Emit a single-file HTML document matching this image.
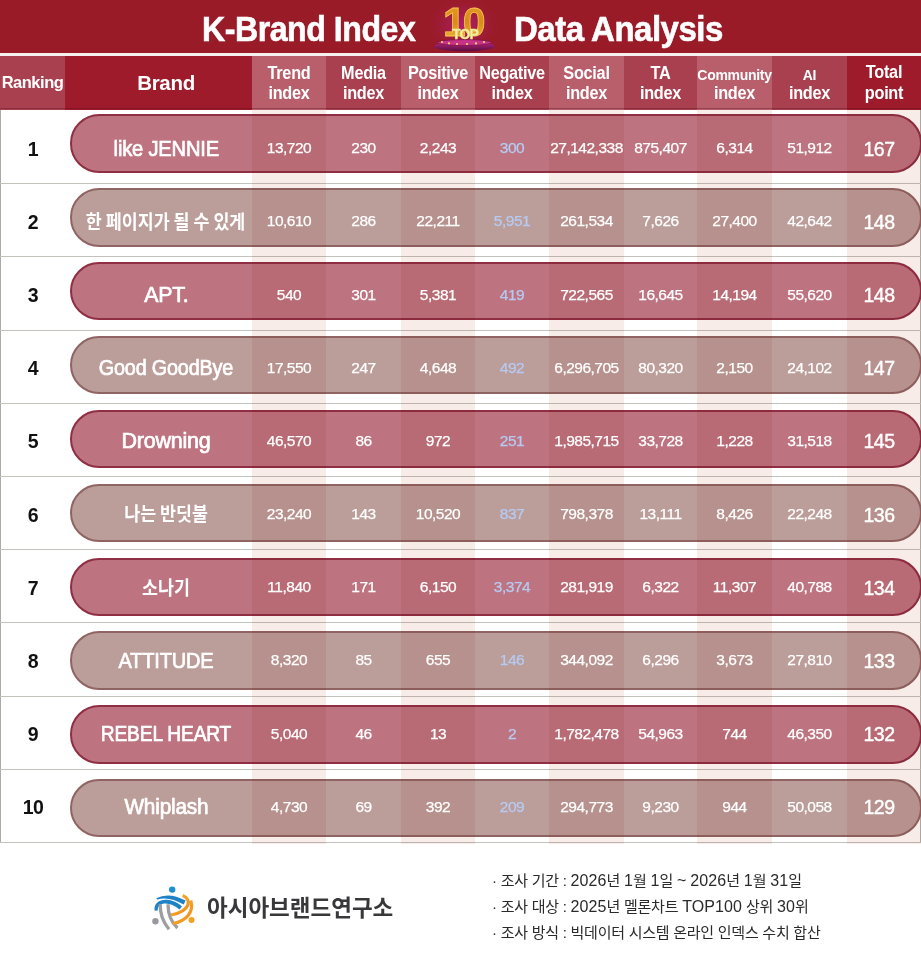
<!DOCTYPE html>
<html><head><meta charset="utf-8">
<style>
*{margin:0;padding:0;box-sizing:border-box}
html,body{width:921px;height:967px;overflow:hidden;background:#fff}
body{position:relative;font-family:"Liberation Sans","Noto Sans CJK KR",sans-serif}
div,svg{position:absolute}
#banner{left:0;top:0;width:921px;height:53px;background:#9a1b28}
#wline{left:0;top:53px;width:921px;height:3px;background:#f7eef0}
.title{top:9px;color:#fff;font-weight:bold;font-size:35px;line-height:40px;white-space:nowrap;-webkit-text-stroke:0.6px #fff}
.hc{top:56px;height:54px;color:#fff;font-weight:bold;text-align:center;white-space:nowrap}
.hc span{position:absolute;left:0;right:0;text-align:center;display:block}
.l1{top:6.6px;font-size:17.5px;line-height:20px;letter-spacing:-0.3px;transform:scaleX(0.93)}
.l2{top:27px;font-size:17.5px;line-height:20px;letter-spacing:-0.3px;transform:scaleX(0.93)}
.hA{background:#9e1b2c}
.hB{background:#a8404f}
.hC{background:#b95f6c}
.band{top:110px;height:734px;background:#f8ece9;mix-blend-mode:multiply}
.sep{left:0;width:921px;height:1px;background:#c2c3bd}
.pill{left:70px;width:852px;height:58.4px;border-radius:29.2px}
.p1{background:#bd7480;border:2.2px solid #902e44}
.p2{background:#bb9d9a;border:2.2px solid #916464}
.cell{height:30px;line-height:30px;text-align:center;color:#fff;font-size:15.5px;letter-spacing:-0.5px;white-space:nowrap;-webkit-text-stroke:0.25px currentColor}
.rank{color:#111;font-weight:bold;font-size:19.5px;-webkit-text-stroke:0}
.brand{font-size:21.5px;letter-spacing:-0.2px;-webkit-text-stroke:0.7px #fff}
.ko{font-family:"Noto Sans CJK KR",sans-serif;font-weight:bold;font-size:19.5px;letter-spacing:0;-webkit-text-stroke:0}
.ko span{display:inline-block;transform:scaleX(0.89)}
.neg{color:#b7cbf2}
.tot{font-size:19.5px;-webkit-text-stroke:0.4px #fff}
.foot{font-family:"Liberation Sans","Noto Sans CJK KR",sans-serif;font-size:15px;color:#2a2a2a;line-height:20px;letter-spacing:-0.25px;white-space:nowrap}
.foot span.d{font-size:16px;letter-spacing:0.1px}
</style></head><body>
<div id="banner"></div><div id="wline"></div>
<div class="title" style="left:202px;letter-spacing:-0.5px;transform:scaleX(0.917);transform-origin:0 0">K-Brand Index</div>
<div class="title" style="left:514px;letter-spacing:-0.5px;transform:scaleX(0.942);transform-origin:0 0">Data Analysis</div>
<svg style="left:425px;top:0" width="80" height="53" viewBox="0 0 80 53">
<defs>
<radialGradient id="glow" cx="0.5" cy="0.5" r="0.5"><stop offset="0" stop-color="#b8207a" stop-opacity="0.85"/><stop offset="0.6" stop-color="#a81e55" stop-opacity="0.4"/><stop offset="1" stop-color="#9b1b2b" stop-opacity="0"/></radialGradient>
<linearGradient id="gold" x1="0" y1="0" x2="0" y2="1"><stop offset="0" stop-color="#e8a028"/><stop offset="0.5" stop-color="#d88a1a"/><stop offset="1" stop-color="#f0c040"/></linearGradient>
<linearGradient id="ped" x1="0" y1="0" x2="0" y2="1"><stop offset="0" stop-color="#c02a80"/><stop offset="1" stop-color="#5a0c40"/></linearGradient>
</defs>
<ellipse cx="38.5" cy="25" rx="36" ry="28" fill="url(#glow)"/>
<ellipse cx="39.5" cy="46.3" rx="30.5" ry="5" fill="url(#ped)"/>
<ellipse cx="39.5" cy="42.6" rx="27" ry="3" fill="#c83288"/>
<ellipse cx="39.5" cy="42.6" rx="27" ry="3" fill="none" stroke="#7a1450" stroke-width="0.8"/>
<g fill="#ffd860"><circle cx="17" cy="42" r="1.1"/><circle cx="24" cy="43.3" r="1.1"/><circle cx="32" cy="44" r="1.1"/><circle cx="42" cy="44" r="1.1"/><circle cx="51" cy="43.4" r="1.1"/><circle cx="59" cy="42" r="1.1"/></g>
<text x="37.8" y="36" text-anchor="middle" font-family="Liberation Sans" font-weight="bold" font-size="41" fill="url(#gold)" letter-spacing="-3" stroke="#f8c850" stroke-width="0.8">10</text>
<text x="40" y="39" text-anchor="middle" font-family="Liberation Sans" font-weight="bold" font-size="14" letter-spacing="-0.9" fill="#f3f0a8" stroke="#e8e080" stroke-width="0.5">TOP</text>
</svg>
<div class="hc hB" style="left:0px;width:65px"><span style="top:16px;font-size:16.5px;line-height:20px;letter-spacing:-0.5px">Ranking</span></div>
<div class="hc hA" style="left:65px;width:187px"><span style="top:16px;left:15px;font-size:20.5px;line-height:22px;letter-spacing:-0.3px">Brand</span></div>
<div class="hc hC" style="left:252px;width:74px"><span class="l1">Trend</span><span class="l2">index</span></div>
<div class="hc hB" style="left:326px;width:75px"><span class="l1">Media</span><span class="l2">index</span></div>
<div class="hc hC" style="left:401px;width:74px"><span class="l1">Positive</span><span class="l2">index</span></div>
<div class="hc hB" style="left:475px;width:74px"><span class="l1">Negative</span><span class="l2">index</span></div>
<div class="hc hC" style="left:549px;width:75px"><span class="l1">Social</span><span class="l2">index</span></div>
<div class="hc hB" style="left:624px;width:73px"><span class="l1">TA</span><span class="l2">index</span></div>
<div class="hc hC" style="left:697px;width:75px"><span class="l1" style="font-size:14px;top:8.5px;letter-spacing:-0.3px;transform:none">Community</span><span class="l2">index</span></div>
<div class="hc hB" style="left:772px;width:75px"><span class="l1" style="font-size:14px;top:8.5px;letter-spacing:-0.3px;transform:none">AI</span><span class="l2">index</span></div>
<div class="hc hA" style="left:847px;width:74px"><span class="l1" style="font-size:17.5px;top:6.3px">Total</span><span class="l2" style="font-size:17.5px;top:26.5px">point</span></div>
<div style="left:0;top:108.3px;width:921px;height:1.2px;background:rgba(80,15,25,0.35)"></div>
<div style="left:0;top:110px;width:1px;height:733px;background:#aaaca6"></div>
<div style="left:920px;top:110px;width:1px;height:733px;background:#b5b3ae"></div>
<div class="sep" style="top:183px"></div>
<div class="pill p1" style="top:114.3px"></div>
<div class="sep" style="top:256px"></div>
<div class="pill p2" style="top:188.2px"></div>
<div class="sep" style="top:330px"></div>
<div class="pill p1" style="top:262.0px"></div>
<div class="sep" style="top:403px"></div>
<div class="pill p2" style="top:335.9px"></div>
<div class="sep" style="top:476px"></div>
<div class="pill p1" style="top:409.8px"></div>
<div class="sep" style="top:549px"></div>
<div class="pill p2" style="top:483.7px"></div>
<div class="sep" style="top:622px"></div>
<div class="pill p1" style="top:557.5px"></div>
<div class="sep" style="top:696px"></div>
<div class="pill p2" style="top:631.4px"></div>
<div class="sep" style="top:769px"></div>
<div class="pill p1" style="top:705.3px"></div>
<div class="sep" style="top:842px"></div>
<div class="pill p2" style="top:779.1px"></div>
<div class="band" style="left:252px;width:74px"></div>
<div class="band" style="left:401px;width:74px"></div>
<div class="band" style="left:549px;width:75px"></div>
<div class="band" style="left:697px;width:75px"></div>
<div class="band" style="left:847px;width:74px"></div>
<div class="cell rank" style="left:0;width:66px;top:133.6px">1</div>
<div class="cell brand" style="left:40px;width:252px;top:133.6px"><span style="display:inline-block;transform:scaleX(0.936)">like JENNIE</span></div>
<div class="cell" style="left:252px;width:74px;top:133.1px">13,720</div>
<div class="cell" style="left:326px;width:75px;top:133.1px">230</div>
<div class="cell" style="left:401px;width:74px;top:133.1px">2,243</div>
<div class="cell neg" style="left:475px;width:74px;top:133.1px">300</div>
<div class="cell" style="left:549px;width:75px;top:133.1px">27,142,338</div>
<div class="cell" style="left:624px;width:73px;top:133.1px">875,407</div>
<div class="cell" style="left:697px;width:75px;top:133.1px">6,314</div>
<div class="cell" style="left:772px;width:75px;top:133.1px">51,912</div>
<div class="cell tot" style="left:847px;width:64px;top:133.6px">167</div>
<div class="cell rank" style="left:0;width:66px;top:206.8px">2</div>
<div class="cell brand ko" style="left:40px;width:252px;top:205.6px"><span>한 페이지가 될 수 있게</span></div>
<div class="cell" style="left:252px;width:74px;top:206.3px">10,610</div>
<div class="cell" style="left:326px;width:75px;top:206.3px">286</div>
<div class="cell" style="left:401px;width:74px;top:206.3px">22,211</div>
<div class="cell neg" style="left:475px;width:74px;top:206.3px">5,951</div>
<div class="cell" style="left:549px;width:75px;top:206.3px">261,534</div>
<div class="cell" style="left:624px;width:73px;top:206.3px">7,626</div>
<div class="cell" style="left:697px;width:75px;top:206.3px">27,400</div>
<div class="cell" style="left:772px;width:75px;top:206.3px">42,642</div>
<div class="cell tot" style="left:847px;width:64px;top:206.8px">148</div>
<div class="cell rank" style="left:0;width:66px;top:280.0px">3</div>
<div class="cell brand" style="left:40px;width:252px;top:280.0px"><span style="display:inline-block;transform:scaleX(0.99)">APT.</span></div>
<div class="cell" style="left:252px;width:74px;top:279.5px">540</div>
<div class="cell" style="left:326px;width:75px;top:279.5px">301</div>
<div class="cell" style="left:401px;width:74px;top:279.5px">5,381</div>
<div class="cell neg" style="left:475px;width:74px;top:279.5px">419</div>
<div class="cell" style="left:549px;width:75px;top:279.5px">722,565</div>
<div class="cell" style="left:624px;width:73px;top:279.5px">16,645</div>
<div class="cell" style="left:697px;width:75px;top:279.5px">14,194</div>
<div class="cell" style="left:772px;width:75px;top:279.5px">55,620</div>
<div class="cell tot" style="left:847px;width:64px;top:280.0px">148</div>
<div class="cell rank" style="left:0;width:66px;top:353.1px">4</div>
<div class="cell brand" style="left:40px;width:252px;top:353.1px"><span style="display:inline-block;transform:scaleX(0.921)">Good GoodBye</span></div>
<div class="cell" style="left:252px;width:74px;top:352.6px">17,550</div>
<div class="cell" style="left:326px;width:75px;top:352.6px">247</div>
<div class="cell" style="left:401px;width:74px;top:352.6px">4,648</div>
<div class="cell neg" style="left:475px;width:74px;top:352.6px">492</div>
<div class="cell" style="left:549px;width:75px;top:352.6px">6,296,705</div>
<div class="cell" style="left:624px;width:73px;top:352.6px">80,320</div>
<div class="cell" style="left:697px;width:75px;top:352.6px">2,150</div>
<div class="cell" style="left:772px;width:75px;top:352.6px">24,102</div>
<div class="cell tot" style="left:847px;width:64px;top:353.1px">147</div>
<div class="cell rank" style="left:0;width:66px;top:426.3px">5</div>
<div class="cell brand" style="left:40px;width:252px;top:426.3px"><span style="display:inline-block;transform:scaleX(1.0)">Drowning</span></div>
<div class="cell" style="left:252px;width:74px;top:425.8px">46,570</div>
<div class="cell" style="left:326px;width:75px;top:425.8px">86</div>
<div class="cell" style="left:401px;width:74px;top:425.8px">972</div>
<div class="cell neg" style="left:475px;width:74px;top:425.8px">251</div>
<div class="cell" style="left:549px;width:75px;top:425.8px">1,985,715</div>
<div class="cell" style="left:624px;width:73px;top:425.8px">33,728</div>
<div class="cell" style="left:697px;width:75px;top:425.8px">1,228</div>
<div class="cell" style="left:772px;width:75px;top:425.8px">31,518</div>
<div class="cell tot" style="left:847px;width:64px;top:426.3px">145</div>
<div class="cell rank" style="left:0;width:66px;top:499.5px">6</div>
<div class="cell brand ko" style="left:40px;width:252px;top:498.3px"><span>나는 반딧불</span></div>
<div class="cell" style="left:252px;width:74px;top:499.0px">23,240</div>
<div class="cell" style="left:326px;width:75px;top:499.0px">143</div>
<div class="cell" style="left:401px;width:74px;top:499.0px">10,520</div>
<div class="cell neg" style="left:475px;width:74px;top:499.0px">837</div>
<div class="cell" style="left:549px;width:75px;top:499.0px">798,378</div>
<div class="cell" style="left:624px;width:73px;top:499.0px">13,111</div>
<div class="cell" style="left:697px;width:75px;top:499.0px">8,426</div>
<div class="cell" style="left:772px;width:75px;top:499.0px">22,248</div>
<div class="cell tot" style="left:847px;width:64px;top:499.5px">136</div>
<div class="cell rank" style="left:0;width:66px;top:572.7px">7</div>
<div class="cell brand ko" style="left:40px;width:252px;top:571.5px"><span>소나기</span></div>
<div class="cell" style="left:252px;width:74px;top:572.2px">11,840</div>
<div class="cell" style="left:326px;width:75px;top:572.2px">171</div>
<div class="cell" style="left:401px;width:74px;top:572.2px">6,150</div>
<div class="cell neg" style="left:475px;width:74px;top:572.2px">3,374</div>
<div class="cell" style="left:549px;width:75px;top:572.2px">281,919</div>
<div class="cell" style="left:624px;width:73px;top:572.2px">6,322</div>
<div class="cell" style="left:697px;width:75px;top:572.2px">11,307</div>
<div class="cell" style="left:772px;width:75px;top:572.2px">40,788</div>
<div class="cell tot" style="left:847px;width:64px;top:572.7px">134</div>
<div class="cell rank" style="left:0;width:66px;top:645.9px">8</div>
<div class="cell brand" style="left:40px;width:252px;top:645.9px"><span style="display:inline-block;transform:scaleX(0.933)">ATTITUDE</span></div>
<div class="cell" style="left:252px;width:74px;top:645.4px">8,320</div>
<div class="cell" style="left:326px;width:75px;top:645.4px">85</div>
<div class="cell" style="left:401px;width:74px;top:645.4px">655</div>
<div class="cell neg" style="left:475px;width:74px;top:645.4px">146</div>
<div class="cell" style="left:549px;width:75px;top:645.4px">344,092</div>
<div class="cell" style="left:624px;width:73px;top:645.4px">6,296</div>
<div class="cell" style="left:697px;width:75px;top:645.4px">3,673</div>
<div class="cell" style="left:772px;width:75px;top:645.4px">27,810</div>
<div class="cell tot" style="left:847px;width:64px;top:645.9px">133</div>
<div class="cell rank" style="left:0;width:66px;top:719.0px">9</div>
<div class="cell brand" style="left:40px;width:252px;top:719.0px"><span style="display:inline-block;transform:scaleX(0.893)">REBEL HEART</span></div>
<div class="cell" style="left:252px;width:74px;top:718.5px">5,040</div>
<div class="cell" style="left:326px;width:75px;top:718.5px">46</div>
<div class="cell" style="left:401px;width:74px;top:718.5px">13</div>
<div class="cell neg" style="left:475px;width:74px;top:718.5px">2</div>
<div class="cell" style="left:549px;width:75px;top:718.5px">1,782,478</div>
<div class="cell" style="left:624px;width:73px;top:718.5px">54,963</div>
<div class="cell" style="left:697px;width:75px;top:718.5px">744</div>
<div class="cell" style="left:772px;width:75px;top:718.5px">46,350</div>
<div class="cell tot" style="left:847px;width:64px;top:719.0px">132</div>
<div class="cell rank" style="left:0;width:66px;top:792.2px">10</div>
<div class="cell brand" style="left:40px;width:252px;top:792.2px"><span style="display:inline-block;transform:scaleX(0.967)">Whiplash</span></div>
<div class="cell" style="left:252px;width:74px;top:791.7px">4,730</div>
<div class="cell" style="left:326px;width:75px;top:791.7px">69</div>
<div class="cell" style="left:401px;width:74px;top:791.7px">392</div>
<div class="cell neg" style="left:475px;width:74px;top:791.7px">209</div>
<div class="cell" style="left:549px;width:75px;top:791.7px">294,773</div>
<div class="cell" style="left:624px;width:73px;top:791.7px">9,230</div>
<div class="cell" style="left:697px;width:75px;top:791.7px">944</div>
<div class="cell" style="left:772px;width:75px;top:791.7px">50,058</div>
<div class="cell tot" style="left:847px;width:64px;top:792.2px">129</div>
<svg style="left:145px;top:880px" width="55" height="55" viewBox="145 880 55 55">
<defs><linearGradient id="og" x1="0" y1="0" x2="1" y2="1"><stop offset="0" stop-color="#f7b733"/><stop offset="1" stop-color="#f08a1c"/></linearGradient></defs>
<circle cx="172.2" cy="889.6" r="3.2" fill="#1b8fd0"/>
<path d="M156.2 898.3 Q 169 891.5 185.6 900.6 L 183.7 904.6 Q 169 896 157.2 899.6 Z" fill="#1e82c6"/>
<path d="M154.6 910.8 C 153.5 903, 160 899.3, 167 899.8 C 173 900.3, 178.5 903, 182 906.5 L 179.5 909.5 C 175 905.8, 170 903.6, 165.5 903.6 C 161 903.6, 157.5 906.2, 157.8 910.5 Z" fill="#1e82c6"/>
<path d="M160.2 904.2 C 160 913, 163 922, 169 929.2" stroke="#9c9ea2" stroke-width="3.3" fill="none"/>
<path d="M168 904.2 C 168 913, 171 922, 177.5 928" stroke="#9c9ea2" stroke-width="3.3" fill="none"/>
<path d="M182.6 895.6 C 192 899, 191 911, 171 915" stroke="url(#og)" stroke-width="3.2" fill="none"/>
<path d="M190.8 900.5 C 194 912, 187 920.5, 173 923.6" stroke="url(#og)" stroke-width="3.2" fill="none"/>
<circle cx="155.4" cy="921.2" r="3.2" fill="#9a9a9e"/>
<circle cx="191.5" cy="919.9" r="3" fill="#f3a324"/>
</svg>
<div style="left:207px;top:891px;font-family:'Noto Sans CJK KR',sans-serif;font-weight:bold;font-size:22.5px;color:#38383a;line-height:30px;white-space:nowrap">아시아브랜드연구소</div>
<div class="foot" style="left:492px;top:871px">· 조사 기간 : <span class="d">2026</span>년 <span class="d">1</span>월 <span class="d">1</span>일 <span class="d">~</span> <span class="d">2026</span>년 <span class="d">1</span>월 <span class="d">31</span>일</div>
<div class="foot" style="left:492px;top:897px">· 조사 대상 : <span class="d">2025</span>년 멜론차트 <span class="d">TOP100</span> 상위 <span class="d">30</span>위</div>
<div class="foot" style="left:492px;top:923px">· 조사 방식 : 빅데이터 시스템 온라인 인덱스 수치 합산</div>
</body></html>
